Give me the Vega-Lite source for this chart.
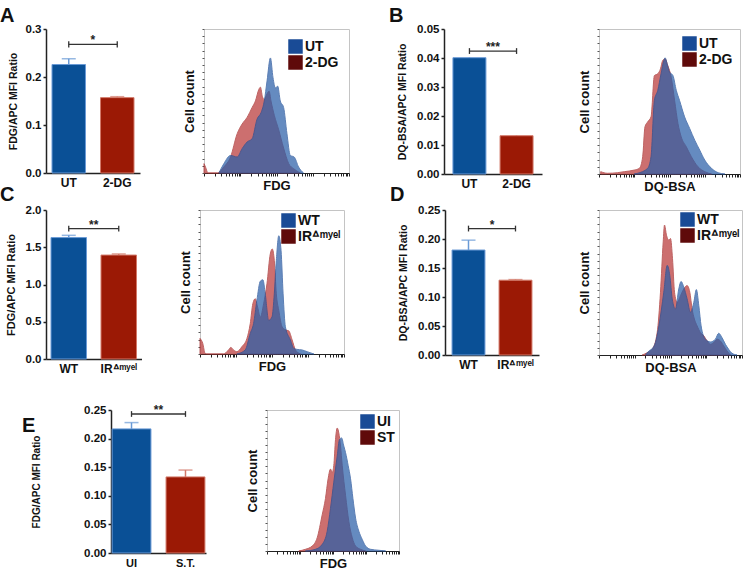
{
"$schema": "https://vega.github.io/schema/vega-lite/v6.json",
"padding": {"left": 0, "top": 6, "right": 0, "bottom": 0},
"background": "white",
"config": {"font": "Liberation Sans", "view": {"stroke": null},
  "axis": {"grid": false, "labelColor": "#111", "titleColor": "#111", "labelFontWeight": "bold", "titleFontWeight": "bold", "domainColor": "#222", "tickColor": "#222", "labelOverlap": false},
  "title": {"color": "#111"}},
"datasets": {
"bars": [
{"p":"A","g":"UT","v":0.226,"e":0.238},{"p":"A","g":"2-DG","v":0.157,"e":0.159},
{"p":"B","g":"UT","v":0.0401,"e":0.0403},{"p":"B","g":"2-DG","v":0.0132,"e":0.0134},
{"p":"C","g":"WT","v":1.63,"e":1.66},{"p":"C","g":"IRᐞᵐʸᵉˡ","v":1.395,"e":1.41},
{"p":"D","g":"WT","v":0.181,"e":0.198},{"p":"D","g":"IRᐞᵐʸᵉˡ","v":0.129,"e":0.13},
{"p":"E","g":"UI","v":0.217,"e":0.228},{"p":"E","g":"S.T.","v":0.133,"e":0.145}],
"br": [
{"p":"A","g":"UT","g2":"2-DG","v":0.268,"lo":0.2617,"hi":0.2743,"s":"*"},
{"p":"B","g":"UT","g2":"2-DG","v":0.0424,"lo":0.0414,"hi":0.0434,"s":"***"},
{"p":"C","g":"WT","g2":"IRᐞᵐʸᵉˡ","v":1.75,"lo":1.71,"hi":1.79,"s":"**"},
{"p":"D","g":"WT","g2":"IRᐞᵐʸᵉˡ","v":0.218,"lo":0.213,"hi":0.223,"s":"*"},
{"p":"E","g":"UI","g2":"S.T.","v":0.243,"lo":0.238,"hi":0.248,"s":"**"}],
"hist": [
{"p":"A","g":"UT","x":10.3,"y":0},{"p":"A","g":"UT","x":13.7,"y":6.5},{"p":"A","g":"UT","x":18.3,"y":12.2},{"p":"A","g":"UT","x":22.9,"y":11.1},{"p":"A","g":"UT","x":26.3,"y":16.9},{"p":"A","g":"UT","x":29.7,"y":21.5},{"p":"A","g":"UT","x":33.2,"y":23.8},{"p":"A","g":"UT","x":36.6,"y":37.4},{"p":"A","g":"UT","x":39.4,"y":42.0},{"p":"A","g":"UT","x":41.6,"y":50.1},{"p":"A","g":"UT","x":43.5,"y":64.0},{"p":"A","g":"UT","x":45.8,"y":79.9},{"p":"A","g":"UT","x":47.6,"y":66.1},{"p":"A","g":"UT","x":49.2,"y":59.1},{"p":"A","g":"UT","x":50.8,"y":60.3},{"p":"A","g":"UT","x":52.6,"y":50.1},{"p":"A","g":"UT","x":54.9,"y":45.5},{"p":"A","g":"UT","x":57.2,"y":27.3},{"p":"A","g":"UT","x":59.5,"y":12.2},{"p":"A","g":"UT","x":62.2,"y":11.1},{"p":"A","g":"UT","x":65.2,"y":4.2},{"p":"A","g":"UT","x":68.6,"y":0},
{"p":"A","g":"2-DG","x":0,"y":6.5},{"p":"A","g":"2-DG","x":1.1,"y":4},{"p":"A","g":"2-DG","x":2.7,"y":0},{"p":"A","g":"2-DG","x":9.2,"y":0},{"p":"A","g":"2-DG","x":13.7,"y":4.2},{"p":"A","g":"2-DG","x":18.3,"y":11.1},{"p":"A","g":"2-DG","x":22.9,"y":27.3},{"p":"A","g":"2-DG","x":26.3,"y":34.0},{"p":"A","g":"2-DG","x":29.7,"y":38.6},{"p":"A","g":"2-DG","x":33.2,"y":45.5},{"p":"A","g":"2-DG","x":35.5,"y":50.1},{"p":"A","g":"2-DG","x":37.8,"y":58.0},{"p":"A","g":"2-DG","x":38.9,"y":59.6},{"p":"A","g":"2-DG","x":40.3,"y":53.0},{"p":"A","g":"2-DG","x":41.6,"y":51.0},{"p":"A","g":"2-DG","x":43.5,"y":55.0},{"p":"A","g":"2-DG","x":44.9,"y":56.8},{"p":"A","g":"2-DG","x":46.2,"y":50.0},{"p":"A","g":"2-DG","x":48.5,"y":40.0},{"p":"A","g":"2-DG","x":51.5,"y":30.0},{"p":"A","g":"2-DG","x":54.9,"y":17.3},{"p":"A","g":"2-DG","x":58.4,"y":6.5},{"p":"A","g":"2-DG","x":61.8,"y":3.0},{"p":"A","g":"2-DG","x":66.4,"y":0},
{"p":"B","g":"UT","x":25,"y":0},{"p":"B","g":"UT","x":27.4,"y":0.5},{"p":"B","g":"UT","x":34.5,"y":3.9},{"p":"B","g":"UT","x":36.9,"y":11.9},{"p":"B","g":"UT","x":39.3,"y":50.8},{"p":"B","g":"UT","x":41.7,"y":57.7},{"p":"B","g":"UT","x":44.0,"y":69.1},{"p":"B","g":"UT","x":46.0,"y":78.3},{"p":"B","g":"UT","x":46.9,"y":80.1},{"p":"B","g":"UT","x":48.3,"y":76.0},{"p":"B","g":"UT","x":50.0,"y":70.3},{"p":"B","g":"UT","x":52.4,"y":68.0},{"p":"B","g":"UT","x":54.8,"y":57.7},{"p":"B","g":"UT","x":57.1,"y":50.8},{"p":"B","g":"UT","x":60.7,"y":39.4},{"p":"B","g":"UT","x":64.3,"y":31.4},{"p":"B","g":"UT","x":67.9,"y":23.3},{"p":"B","g":"UT","x":71.4,"y":16.5},{"p":"B","g":"UT","x":75.0,"y":9.6},{"p":"B","g":"UT","x":79.8,"y":3.9},{"p":"B","g":"UT","x":84.5,"y":0.9},{"p":"B","g":"UT","x":89.3,"y":0},
{"p":"B","g":"2-DG","x":1.2,"y":1.6},{"p":"B","g":"2-DG","x":6.0,"y":0.5},{"p":"B","g":"2-DG","x":13.1,"y":0.9},{"p":"B","g":"2-DG","x":17.9,"y":1.6},{"p":"B","g":"2-DG","x":25.0,"y":2.7},{"p":"B","g":"2-DG","x":28.6,"y":3.9},{"p":"B","g":"2-DG","x":31.0,"y":11.9},{"p":"B","g":"2-DG","x":32.6,"y":32.5},{"p":"B","g":"2-DG","x":34.5,"y":35.9},{"p":"B","g":"2-DG","x":36.9,"y":39.4},{"p":"B","g":"2-DG","x":39.3,"y":67.9},{"p":"B","g":"2-DG","x":41.7,"y":69.1},{"p":"B","g":"2-DG","x":43.6,"y":72.5},{"p":"B","g":"2-DG","x":45.2,"y":78.3},{"p":"B","g":"2-DG","x":46.9,"y":79.4},{"p":"B","g":"2-DG","x":48.8,"y":74.8},{"p":"B","g":"2-DG","x":51.2,"y":66.8},{"p":"B","g":"2-DG","x":53.6,"y":50.8},{"p":"B","g":"2-DG","x":56.0,"y":34.8},{"p":"B","g":"2-DG","x":58.3,"y":25.6},{"p":"B","g":"2-DG","x":61.9,"y":18.8},{"p":"B","g":"2-DG","x":65.5,"y":11.9},{"p":"B","g":"2-DG","x":70.2,"y":5.0},{"p":"B","g":"2-DG","x":75.0,"y":1.6},{"p":"B","g":"2-DG","x":79.8,"y":0},
{"p":"C","g":"WT","x":25.6,"y":0},{"p":"C","g":"WT","x":31.4,"y":2.8},{"p":"C","g":"WT","x":34.9,"y":14.3},{"p":"C","g":"WT","x":37.2,"y":21.1},{"p":"C","g":"WT","x":39.5,"y":37.2},{"p":"C","g":"WT","x":41.9,"y":50.6},{"p":"C","g":"WT","x":43.7,"y":51.5},{"p":"C","g":"WT","x":45.3,"y":41.8},{"p":"C","g":"WT","x":47.7,"y":23.4},{"p":"C","g":"WT","x":50.0,"y":25.7},{"p":"C","g":"WT","x":51.6,"y":41.8},{"p":"C","g":"WT","x":53.0,"y":64.8},{"p":"C","g":"WT","x":54.7,"y":82.1},{"p":"C","g":"WT","x":56.3,"y":71.7},{"p":"C","g":"WT","x":57.7,"y":41.8},{"p":"C","g":"WT","x":59.3,"y":18.9},{"p":"C","g":"WT","x":62.8,"y":9.7},{"p":"C","g":"WT","x":65.1,"y":3.9},{"p":"C","g":"WT","x":67.4,"y":3.2},{"p":"C","g":"WT","x":70.9,"y":2.8},{"p":"C","g":"WT","x":74.4,"y":1.6},{"p":"C","g":"WT","x":79.1,"y":0},
{"p":"C","g":"IRᐞᵐʸᵉˡ","x":0,"y":10.8},{"p":"C","g":"IRᐞᵐʸᵉˡ","x":1.9,"y":7.4},{"p":"C","g":"IRᐞᵐʸᵉˡ","x":3.5,"y":0.5},{"p":"C","g":"IRᐞᵐʸᵉˡ","x":4.7,"y":0},{"p":"C","g":"IRᐞᵐʸᵉˡ","x":16.3,"y":0},{"p":"C","g":"IRᐞᵐʸᵉˡ","x":19.8,"y":2.8},{"p":"C","g":"IRᐞᵐʸᵉˡ","x":21.4,"y":4.6},{"p":"C","g":"IRᐞᵐʸᵉˡ","x":23.3,"y":2.8},{"p":"C","g":"IRᐞᵐʸᵉˡ","x":25.6,"y":1.6},{"p":"C","g":"IRᐞᵐʸᵉˡ","x":29.1,"y":5.1},{"p":"C","g":"IRᐞᵐʸᵉˡ","x":32.6,"y":10.8},{"p":"C","g":"IRᐞᵐʸᵉˡ","x":34.9,"y":21.1},{"p":"C","g":"IRᐞᵐʸᵉˡ","x":36.7,"y":34.9},{"p":"C","g":"IRᐞᵐʸᵉˡ","x":38.4,"y":38.4},{"p":"C","g":"IRᐞᵐʸᵉˡ","x":40.0,"y":32.6},{"p":"C","g":"IRᐞᵐʸᵉˡ","x":41.9,"y":25.7},{"p":"C","g":"IRᐞᵐʸᵉˡ","x":44.2,"y":34.9},{"p":"C","g":"IRᐞᵐʸᵉˡ","x":46.5,"y":48.7},{"p":"C","g":"IRᐞᵐʸᵉˡ","x":48.8,"y":69.4},{"p":"C","g":"IRᐞᵐʸᵉˡ","x":50.2,"y":72.9},{"p":"C","g":"IRᐞᵐʸᵉˡ","x":51.6,"y":64.8},{"p":"C","g":"IRᐞᵐʸᵉˡ","x":53.0,"y":41.8},{"p":"C","g":"IRᐞᵐʸᵉˡ","x":54.7,"y":30.3},{"p":"C","g":"IRᐞᵐʸᵉˡ","x":57.0,"y":18.9},{"p":"C","g":"IRᐞᵐʸᵉˡ","x":59.3,"y":16.8},{"p":"C","g":"IRᐞᵐʸᵉˡ","x":61.6,"y":16.1},{"p":"C","g":"IRᐞᵐʸᵉˡ","x":64.0,"y":9.7},{"p":"C","g":"IRᐞᵐʸᵉˡ","x":66.3,"y":2.8},{"p":"C","g":"IRᐞᵐʸᵉˡ","x":69.8,"y":0},
{"p":"D","g":"WT","x":32.6,"y":0},{"p":"D","g":"WT","x":34.9,"y":2.8},{"p":"D","g":"WT","x":37.2,"y":4.4},{"p":"D","g":"WT","x":39.5,"y":8.6},{"p":"D","g":"WT","x":41.9,"y":20.1},{"p":"D","g":"WT","x":45.3,"y":43.3},{"p":"D","g":"WT","x":47.7,"y":61.8},{"p":"D","g":"WT","x":49.5,"y":54.9},{"p":"D","g":"WT","x":51.2,"y":38.7},{"p":"D","g":"WT","x":53.5,"y":31.7},{"p":"D","g":"WT","x":55.8,"y":45.6},{"p":"D","g":"WT","x":57.4,"y":50.7},{"p":"D","g":"WT","x":59.3,"y":46.8},{"p":"D","g":"WT","x":61.6,"y":38.7},{"p":"D","g":"WT","x":64.0,"y":29.4},{"p":"D","g":"WT","x":66.3,"y":36.3},{"p":"D","g":"WT","x":68.1,"y":45.1},{"p":"D","g":"WT","x":69.8,"y":34.0},{"p":"D","g":"WT","x":71.4,"y":20.1},{"p":"D","g":"WT","x":74.4,"y":10.9},{"p":"D","g":"WT","x":77.9,"y":9.0},{"p":"D","g":"WT","x":81.4,"y":10.9},{"p":"D","g":"WT","x":83.7,"y":15.0},{"p":"D","g":"WT","x":86.0,"y":12.0},{"p":"D","g":"WT","x":88.4,"y":7.4},{"p":"D","g":"WT","x":90.7,"y":3.9},{"p":"D","g":"WT","x":93.0,"y":1.2},{"p":"D","g":"WT","x":96.5,"y":0},
{"p":"D","g":"IRᐞᵐʸᵉˡ","x":30.2,"y":0},{"p":"D","g":"IRᐞᵐʸᵉˡ","x":33.7,"y":1.6},{"p":"D","g":"IRᐞᵐʸᵉˡ","x":37.2,"y":3.9},{"p":"D","g":"IRᐞᵐʸᵉˡ","x":40.7,"y":15.5},{"p":"D","g":"IRᐞᵐʸᵉˡ","x":43.0,"y":43.3},{"p":"D","g":"IRᐞᵐʸᵉˡ","x":44.9,"y":78.0},{"p":"D","g":"IRᐞᵐʸᵉˡ","x":45.8,"y":89.6},{"p":"D","g":"IRᐞᵐʸᵉˡ","x":47.2,"y":82.6},{"p":"D","g":"IRᐞᵐʸᵉˡ","x":48.8,"y":79.2},{"p":"D","g":"IRᐞᵐʸᵉˡ","x":50.0,"y":80.3},{"p":"D","g":"IRᐞᵐʸᵉˡ","x":51.4,"y":66.4},{"p":"D","g":"IRᐞᵐʸᵉˡ","x":52.8,"y":43.3},{"p":"D","g":"IRᐞᵐʸᵉˡ","x":54.7,"y":36.3},{"p":"D","g":"IRᐞᵐʸᵉˡ","x":57.0,"y":40.9},{"p":"D","g":"IRᐞᵐʸᵉˡ","x":59.3,"y":45.6},{"p":"D","g":"IRᐞᵐʸᵉˡ","x":61.6,"y":47.9},{"p":"D","g":"IRᐞᵐʸᵉˡ","x":63.5,"y":43.3},{"p":"D","g":"IRᐞᵐʸᵉˡ","x":65.1,"y":31.7},{"p":"D","g":"IRᐞᵐʸᵉˡ","x":66.7,"y":24.8},{"p":"D","g":"IRᐞᵐʸᵉˡ","x":68.6,"y":20.1},{"p":"D","g":"IRᐞᵐʸᵉˡ","x":70.9,"y":15.5},{"p":"D","g":"IRᐞᵐʸᵉˡ","x":73.3,"y":13.2},{"p":"D","g":"IRᐞᵐʸᵉˡ","x":75.6,"y":9.7},{"p":"D","g":"IRᐞᵐʸᵉˡ","x":77.9,"y":7.4},{"p":"D","g":"IRᐞᵐʸᵉˡ","x":80.2,"y":8.6},{"p":"D","g":"IRᐞᵐʸᵉˡ","x":82.6,"y":10.9},{"p":"D","g":"IRᐞᵐʸᵉˡ","x":84.9,"y":9.7},{"p":"D","g":"IRᐞᵐʸᵉˡ","x":87.2,"y":6.3},{"p":"D","g":"IRᐞᵐʸᵉˡ","x":89.5,"y":2.8},{"p":"D","g":"IRᐞᵐʸᵉˡ","x":91.9,"y":0},
{"p":"E","g":"UI","x":29.1,"y":0},{"p":"E","g":"UI","x":36.7,"y":1.2},{"p":"E","g":"UI","x":41.8,"y":4.7},{"p":"E","g":"UI","x":45.6,"y":14.0},{"p":"E","g":"UI","x":48.1,"y":30.2},{"p":"E","g":"UI","x":50.6,"y":48.8},{"p":"E","g":"UI","x":53.2,"y":67.4},{"p":"E","g":"UI","x":54.9,"y":79.1},{"p":"E","g":"UI","x":56.5,"y":80.2},{"p":"E","g":"UI","x":58.2,"y":74.4},{"p":"E","g":"UI","x":59.5,"y":69.8},{"p":"E","g":"UI","x":61.5,"y":60.5},{"p":"E","g":"UI","x":63.3,"y":51.2},{"p":"E","g":"UI","x":65.1,"y":37.2},{"p":"E","g":"UI","x":67.1,"y":23.3},{"p":"E","g":"UI","x":69.6,"y":14.0},{"p":"E","g":"UI","x":72.2,"y":8.1},{"p":"E","g":"UI","x":74.7,"y":3.5},{"p":"E","g":"UI","x":78.5,"y":1.2},{"p":"E","g":"UI","x":84.8,"y":0.5},{"p":"E","g":"UI","x":89.9,"y":0},
{"p":"E","g":"ST","x":24.1,"y":0},{"p":"E","g":"ST","x":29.1,"y":1.2},{"p":"E","g":"ST","x":34.2,"y":3.5},{"p":"E","g":"ST","x":38.0,"y":9.3},{"p":"E","g":"ST","x":41.8,"y":25.6},{"p":"E","g":"ST","x":44.3,"y":37.2},{"p":"E","g":"ST","x":46.3,"y":51.2},{"p":"E","g":"ST","x":48.1,"y":58.1},{"p":"E","g":"ST","x":49.4,"y":55.8},{"p":"E","g":"ST","x":50.6,"y":60.5},{"p":"E","g":"ST","x":51.9,"y":79.1},{"p":"E","g":"ST","x":53.2,"y":87.2},{"p":"E","g":"ST","x":54.4,"y":83.7},{"p":"E","g":"ST","x":55.7,"y":74.4},{"p":"E","g":"ST","x":57.0,"y":60.5},{"p":"E","g":"ST","x":59.5,"y":39.5},{"p":"E","g":"ST","x":62.0,"y":20.9},{"p":"E","g":"ST","x":64.6,"y":9.3},{"p":"E","g":"ST","x":67.1,"y":3.5},{"p":"E","g":"ST","x":70.9,"y":1.2},{"p":"E","g":"ST","x":74.7,"y":0}
]},
"spacing": 29,
"resolve": {"scale": {"color": "independent", "fill": "independent", "stroke": "independent", "x": "independent", "y": "independent"}, "legend": {"color": "independent"}, "axis": {"x": "independent", "y": "independent"}},
"vconcat": [
{"spacing": -9,
 "resolve": {"scale": {"color": "independent", "fill": "independent", "stroke": "independent", "x": "independent", "y": "independent"}, "legend": {"color": "independent"}, "axis": {"x": "independent", "y": "independent"}},
 "vconcat": [
 {"bounds": "flush", "spacing": 0,
  "resolve": {"scale": {"color": "independent", "fill": "independent", "stroke": "independent", "x": "independent", "y": "independent"}, "legend": {"color": "independent"}, "axis": {"x": "independent", "y": "independent"}},
  "hconcat": [
   {"width": 124, "height": 144,
    "title": {"text": "A", "anchor": "start", "frame": "group", "fontSize": 20, "fontWeight": "bold", "baseline": "alphabetic", "dx": -46, "offset": 0, "dy": 19},
    "layer": [
     {"data": {"name": "bars"}, "transform": [{"filter": "datum.p==='A'"}], "mark": {"type": "bar", "strokeWidth": 1},
      "encoding": {
       "x": {"field": "g", "type": "nominal", "sort": null, "scale": {"domain": ["UT","2-DG"], "range": [0,94], "paddingInner": 0.31, "paddingOuter": 0.124}, "axis": {"title": null, "labelAngle": 0, "ticks": false, "labelFontSize": 12, "labelPadding": 4, "domainWidth": 1.5}},
       "y": {"field": "v", "type": "quantitative", "scale": {"domain": [0,0.3], "nice": false}, "axis": {"title": "FDG/APC MFI Ratio", "values": [0,0.1,0.2,0.3], "tickCount": 10, "format": ".1f", "labelOverlap": false, "labelFontSize": 11.5, "labelPadding": 2, "tickSize": 3, "tickWidth": 1.5, "domainWidth": 1.5, "titleFontSize": 10.5, "titlePadding": 7}},
       "fill": {"field": "g", "type": "nominal", "scale": {"domain": ["UT","2-DG"], "range": ["#0A5096","#9B1905"]}, "legend": null},
       "stroke": {"field": "g", "type": "nominal", "scale": {"domain": ["UT","2-DG"], "range": ["#6A9AD6","#D27868"]}, "legend": null}}},
     {"data": {"name": "bars"}, "transform": [{"filter": "datum.p==='A'"}], "mark": {"type": "rule", "strokeWidth": 1.5},
      "encoding": {"x": {"field": "g", "type": "nominal"}, "y": {"field": "v", "type": "quantitative"}, "y2": {"field": "e"}, "stroke": {"field": "g", "type": "nominal", "legend": null}}},
     {"data": {"name": "bars"}, "transform": [{"filter": "datum.p==='A'"}], "mark": {"type": "tick", "size": 14, "thickness": 1.5},
      "encoding": {"x": {"field": "g", "type": "nominal"}, "y": {"field": "e", "type": "quantitative"}, "color": {"field": "g", "type": "nominal", "scale": {"domain": ["UT","2-DG"], "range": ["#6A9AD6","#D27868"]}, "legend": null}}},
     {"data": {"name": "br"}, "transform": [{"filter": "datum.p==='A'"}], "mark": {"type": "rule", "color": "#333", "strokeWidth": 1.3},
      "encoding": {"x": {"field": "g", "type": "nominal"}, "x2": {"field": "g2"}, "y": {"field": "v", "type": "quantitative"}}},
     {"data": {"name": "br"}, "transform": [{"filter": "datum.p==='A'"}], "mark": {"type": "rule", "color": "#333", "strokeWidth": 1.3},
      "encoding": {"x": {"field": "g", "type": "nominal"}, "y": {"field": "lo", "type": "quantitative"}, "y2": {"field": "hi"}}},
     {"data": {"name": "br"}, "transform": [{"filter": "datum.p==='A'"}], "mark": {"type": "rule", "color": "#333", "strokeWidth": 1.3},
      "encoding": {"x": {"field": "g2", "type": "nominal"}, "y": {"field": "lo", "type": "quantitative"}, "y2": {"field": "hi"}}},
     {"data": {"name": "br"}, "transform": [{"filter": "datum.p==='A'"}], "mark": {"type": "text", "fontSize": 12, "fontWeight": "bold", "dx": 24, "baseline": "alphabetic", "color": "#222"},
      "encoding": {"x": {"field": "g", "type": "nominal"}, "y": {"field": "v", "type": "quantitative"}, "text": {"field": "s"}}}
    ]},
   {"width": 34, "height": 144, "data": {"values": [{"k": 1}]}, "mark": {"type": "point", "opacity": 0}, "encoding": {}},
   {"width": 145, "height": 144, "view": {"stroke": "#c4c4c4"},
    "layer": [
     {"data": {"name": "hist"}, "transform": [{"filter": "datum.p==='A' && datum.g==='2-DG'"}], "mark": {"type": "area", "interpolate": "monotone", "color": "#BC3F3F", "opacity": 0.75, "stroke": "#A83030", "strokeWidth": 1},
      "encoding": {
       "x": {"field": "x", "type": "quantitative", "scale": {"domain": [0,100], "nice": false, "zero": false}, "axis": {"title": "FDG", "titleFontSize": 13, "titlePadding": 3, "labels": false, "tickCount": 50, "values": [0,7.5,11.9,15.1,17.5,19.5,21.1,22.6,23.9,25,32.5,36.9,40.1,42.5,44.5,46.1,47.6,48.9,50,57.5,61.9,65.1,67.5,69.5,71.1,72.6,73.9,75,82.5,86.9,90.1,92.5,94.5,96.1,97.6,98.9,100], "tickSize": 3, "domainWidth": 1.2}},
       "y": {"field": "y", "type": "quantitative", "scale": {"domain": [0,100], "nice": false}, "axis": {"title": "Cell count", "titleFontSize": 13, "titlePadding": 5, "labels": false, "tickCount": 50, "values": [0,5,10,15,20,25,30,35,40,45,50,55,60,65,70,75,80,85,90,95,100], "tickSize": 2, "tickColor": "#555", "domain": false}}}},
     {"data": {"name": "hist"}, "transform": [{"filter": "datum.p==='A' && datum.g==='UT'"}], "mark": {"type": "area", "interpolate": "monotone", "color": "#2B5FA8", "opacity": 0.72, "stroke": "#1E4E98", "strokeWidth": 1},
      "encoding": {"x": {"field": "x", "type": "quantitative"}, "y": {"field": "y", "type": "quantitative"}}},
     {"data": {"name": "hist"}, "transform": [{"filter": "datum.p==='A'"}], "mark": {"type": "point", "opacity": 0, "filled": true},
      "encoding": {"x": {"field": "x", "type": "quantitative"}, "y": {"field": "y", "type": "quantitative"},
       "color": {"field": "g", "type": "nominal", "scale": {"domain": ["UT","2-DG"], "range": ["#194B96","#5F0A0A"]},
        "legend": {"orient": "top-right", "offset": 10, "title": null, "symbolType": "square", "symbolSize": 210, "symbolOpacity": 1, "symbolStrokeWidth": 0, "labelFontSize": 14, "labelFontWeight": "bold", "labelColor": "#111", "rowPadding": 1, "labelOffset": 2, "padding": 0}}}}
    ]},
   {"width": 95, "height": 144, "data": {"values": [{"k": 1}]}, "mark": {"type": "point", "opacity": 0}, "encoding": {}},
   {"width": 111, "height": 145,
    "title": {"text": "B", "anchor": "start", "frame": "group", "fontSize": 20, "fontWeight": "bold", "baseline": "alphabetic", "dx": -55, "offset": 0, "dy": 19},
    "layer": [
     {"data": {"name": "bars"}, "transform": [{"filter": "datum.p==='B'"}], "mark": {"type": "bar", "strokeWidth": 1},
      "encoding": {
       "x": {"field": "g", "type": "nominal", "sort": null, "scale": {"domain": ["UT","2-DG"], "range": [0,98], "paddingInner": 0.30, "paddingOuter": 0.19}, "axis": {"title": null, "labelAngle": 0, "ticks": false, "labelFontSize": 12, "labelPadding": 4, "domainWidth": 1.5}},
       "y": {"field": "v", "type": "quantitative", "scale": {"domain": [0,0.05], "nice": false}, "axis": {"title": "DQ-BSA/APC MFI Ratio", "values": [0,0.01,0.02,0.03,0.04,0.05], "tickCount": 10, "format": ".2f", "labelOverlap": false, "labelFontSize": 11.5, "labelPadding": 2, "tickSize": 3, "tickWidth": 1.5, "domainWidth": 1.5, "titleFontSize": 10.5, "titlePadding": 9}},
       "fill": {"field": "g", "type": "nominal", "scale": {"domain": ["UT","2-DG"], "range": ["#0A5096","#9B1905"]}, "legend": null},
       "stroke": {"field": "g", "type": "nominal", "scale": {"domain": ["UT","2-DG"], "range": ["#6A9AD6","#D27868"]}, "legend": null}}},
     {"data": {"name": "bars"}, "transform": [{"filter": "datum.p==='B'"}], "mark": {"type": "rule", "strokeWidth": 1.5},
      "encoding": {"x": {"field": "g", "type": "nominal"}, "y": {"field": "v", "type": "quantitative", "axis": {"title": "DQ-BSA/APC MFI Ratio", "values": [0,0.01,0.02,0.03,0.04,0.05], "tickCount": 10, "format": ".2f", "labelOverlap": false}}, "y2": {"field": "e"}, "stroke": {"field": "g", "type": "nominal", "legend": null}}},
     {"data": {"name": "br"}, "transform": [{"filter": "datum.p==='B'"}], "mark": {"type": "rule", "color": "#333", "strokeWidth": 1.3},
      "encoding": {"x": {"field": "g", "type": "nominal"}, "x2": {"field": "g2"}, "y": {"field": "v", "type": "quantitative", "axis": {"title": "DQ-BSA/APC MFI Ratio", "values": [0,0.01,0.02,0.03,0.04,0.05], "tickCount": 10, "format": ".2f", "labelOverlap": false}}}},
     {"data": {"name": "br"}, "transform": [{"filter": "datum.p==='B'"}], "mark": {"type": "rule", "color": "#333", "strokeWidth": 1.3},
      "encoding": {"x": {"field": "g", "type": "nominal"}, "y": {"field": "lo", "type": "quantitative", "axis": {"title": "DQ-BSA/APC MFI Ratio", "values": [0,0.01,0.02,0.03,0.04,0.05], "tickCount": 10, "format": ".2f", "labelOverlap": false}}, "y2": {"field": "hi"}}},
     {"data": {"name": "br"}, "transform": [{"filter": "datum.p==='B'"}], "mark": {"type": "rule", "color": "#333", "strokeWidth": 1.3},
      "encoding": {"x": {"field": "g2", "type": "nominal"}, "y": {"field": "lo", "type": "quantitative", "axis": {"title": "DQ-BSA/APC MFI Ratio", "values": [0,0.01,0.02,0.03,0.04,0.05], "tickCount": 10, "format": ".2f", "labelOverlap": false}}, "y2": {"field": "hi"}}},
     {"data": {"name": "br"}, "transform": [{"filter": "datum.p==='B'"}], "mark": {"type": "text", "fontSize": 12, "fontWeight": "bold", "dx": 23.5, "baseline": "alphabetic", "color": "#222"},
      "encoding": {"x": {"field": "g", "type": "nominal"}, "y": {"field": "v", "type": "quantitative", "axis": {"title": "DQ-BSA/APC MFI Ratio", "values": [0,0.01,0.02,0.03,0.04,0.05], "tickCount": 10, "format": ".2f", "labelOverlap": false}}, "text": {"field": "s"}}}
    ]},
   {"width": 44, "height": 144, "data": {"values": [{"k": 1}]}, "mark": {"type": "point", "opacity": 0}, "encoding": {}},
   {"width": 141, "height": 145, "view": {"stroke": "#c4c4c4"},
    "layer": [
     {"data": {"name": "hist"}, "transform": [{"filter": "datum.p==='B' && datum.g==='2-DG'"}], "mark": {"type": "area", "interpolate": "monotone", "color": "#BC3F3F", "opacity": 0.75, "stroke": "#A83030", "strokeWidth": 1},
      "encoding": {
       "x": {"field": "x", "type": "quantitative", "scale": {"domain": [0,100], "nice": false, "zero": false}, "axis": {"title": "DQ-BSA", "titleFontSize": 13, "titlePadding": 3, "labels": false, "tickCount": 50, "values": [0,7.5,11.9,15.1,17.5,19.5,21.1,22.6,23.9,25,32.5,36.9,40.1,42.5,44.5,46.1,47.6,48.9,50,57.5,61.9,65.1,67.5,69.5,71.1,72.6,73.9,75,82.5,86.9,90.1,92.5,94.5,96.1,97.6,98.9,100], "tickSize": 3, "domainWidth": 1.2}},
       "y": {"field": "y", "type": "quantitative", "scale": {"domain": [0,100], "nice": false}, "axis": {"title": "Cell count", "titleFontSize": 13, "titlePadding": 5, "labels": false, "tickCount": 50, "values": [0,5,10,15,20,25,30,35,40,45,50,55,60,65,70,75,80,85,90,95,100], "tickSize": 2, "tickColor": "#555", "domain": false}}}},
     {"data": {"name": "hist"}, "transform": [{"filter": "datum.p==='B' && datum.g==='UT'"}], "mark": {"type": "area", "interpolate": "monotone", "color": "#2B5FA8", "opacity": 0.72, "stroke": "#1E4E98", "strokeWidth": 1},
      "encoding": {"x": {"field": "x", "type": "quantitative"}, "y": {"field": "y", "type": "quantitative"}}},
     {"data": {"name": "hist"}, "transform": [{"filter": "datum.p==='B'"}], "mark": {"type": "point", "opacity": 0, "filled": true},
      "encoding": {"x": {"field": "x", "type": "quantitative"}, "y": {"field": "y", "type": "quantitative"},
       "color": {"field": "g", "type": "nominal", "scale": {"domain": ["UT","2-DG"], "range": ["#194B96","#5F0A0A"]},
        "legend": {"orient": "top-right", "offset": 7, "title": null, "symbolType": "square", "symbolSize": 210, "symbolOpacity": 1, "symbolStrokeWidth": 0, "labelFontSize": 14, "labelFontWeight": "bold", "labelColor": "#111", "rowPadding": 1, "labelOffset": 2, "padding": 0}}}}
    ]}
  ]},
 {"bounds": "flush", "spacing": 0,
  "resolve": {"scale": {"color": "independent", "fill": "independent", "stroke": "independent", "x": "independent", "y": "independent"}, "legend": {"color": "independent"}, "axis": {"x": "independent", "y": "independent"}},
  "hconcat": [
   {"width": 98, "height": 149,
    "title": {"text": "C", "anchor": "start", "frame": "group", "fontSize": 20, "fontWeight": "bold", "baseline": "alphabetic", "dx": -46, "offset": 0, "dy": 17},
    "layer": [
     {"data": {"name": "bars"}, "transform": [{"filter": "datum.p==='C'"}], "mark": {"type": "bar", "strokeWidth": 1},
      "encoding": {
       "x": {"field": "g", "type": "nominal", "sort": null, "scale": {"domain": ["WT","IRᐞᵐʸᵉˡ"], "range": [0,95.5], "paddingInner": 0.29, "paddingOuter": 0.1}, "axis": {"title": null, "labelAngle": 0, "ticks": false, "labelFontSize": 12, "labelPadding": 4, "domainWidth": 1.5}},
       "y": {"field": "v", "type": "quantitative", "scale": {"domain": [0,2], "nice": false}, "axis": {"title": "FDG/APC MFI Ratio", "values": [0,0.5,1,1.5,2], "tickCount": 10, "format": ".1f", "labelOverlap": false, "labelFontSize": 11.5, "labelPadding": 2, "tickSize": 3, "tickWidth": 1.5, "domainWidth": 1.5, "titleFontSize": 11, "titlePadding": 9}},
       "fill": {"field": "g", "type": "nominal", "scale": {"domain": ["WT","IRᐞᵐʸᵉˡ"], "range": ["#0A5096","#9B1905"]}, "legend": null},
       "stroke": {"field": "g", "type": "nominal", "scale": {"domain": ["WT","IRᐞᵐʸᵉˡ"], "range": ["#6A9AD6","#D27868"]}, "legend": null}}},
     {"data": {"name": "bars"}, "transform": [{"filter": "datum.p==='C'"}], "mark": {"type": "rule", "strokeWidth": 1.5},
      "encoding": {"x": {"field": "g", "type": "nominal"}, "y": {"field": "v", "type": "quantitative", "axis": {"title": "FDG/APC MFI Ratio", "values": [0,0.5,1,1.5,2], "tickCount": 10, "format": ".1f", "labelOverlap": false}}, "y2": {"field": "e"}, "stroke": {"field": "g", "type": "nominal", "legend": null}}},
     {"data": {"name": "bars"}, "transform": [{"filter": "datum.p==='C'"}], "mark": {"type": "tick", "size": 14, "thickness": 1.5},
      "encoding": {"x": {"field": "g", "type": "nominal"}, "y": {"field": "e", "type": "quantitative", "axis": {"title": "FDG/APC MFI Ratio", "values": [0,0.5,1,1.5,2], "tickCount": 10, "format": ".1f", "labelOverlap": false}}, "color": {"field": "g", "type": "nominal", "scale": {"domain": ["WT","IRᐞᵐʸᵉˡ"], "range": ["#6A9AD6","#D27868"]}, "legend": null}}},
     {"data": {"name": "br"}, "transform": [{"filter": "datum.p==='C'"}], "mark": {"type": "rule", "color": "#333", "strokeWidth": 1.3},
      "encoding": {"x": {"field": "g", "type": "nominal"}, "x2": {"field": "g2"}, "y": {"field": "v", "type": "quantitative", "axis": {"title": "FDG/APC MFI Ratio", "values": [0,0.5,1,1.5,2], "tickCount": 10, "format": ".1f", "labelOverlap": false}}}},
     {"data": {"name": "br"}, "transform": [{"filter": "datum.p==='C'"}], "mark": {"type": "rule", "color": "#333", "strokeWidth": 1.3},
      "encoding": {"x": {"field": "g", "type": "nominal"}, "y": {"field": "lo", "type": "quantitative", "axis": {"title": "FDG/APC MFI Ratio", "values": [0,0.5,1,1.5,2], "tickCount": 10, "format": ".1f", "labelOverlap": false}}, "y2": {"field": "hi"}}},
     {"data": {"name": "br"}, "transform": [{"filter": "datum.p==='C'"}], "mark": {"type": "rule", "color": "#333", "strokeWidth": 1.3},
      "encoding": {"x": {"field": "g2", "type": "nominal"}, "y": {"field": "lo", "type": "quantitative", "axis": {"title": "FDG/APC MFI Ratio", "values": [0,0.5,1,1.5,2], "tickCount": 10, "format": ".1f", "labelOverlap": false}}, "y2": {"field": "hi"}}},
     {"data": {"name": "br"}, "transform": [{"filter": "datum.p==='C'"}], "mark": {"type": "text", "fontSize": 12, "fontWeight": "bold", "dx": 25, "baseline": "alphabetic", "color": "#222"},
      "encoding": {"x": {"field": "g", "type": "nominal"}, "y": {"field": "v", "type": "quantitative", "axis": {"title": "FDG/APC MFI Ratio", "values": [0,0.5,1,1.5,2], "tickCount": 10, "format": ".1f", "labelOverlap": false}}, "text": {"field": "s"}}}
    ]},
   {"width": 56, "height": 144, "data": {"values": [{"k": 1}]}, "mark": {"type": "point", "opacity": 0}, "encoding": {}},
   {"width": 144, "height": 144, "view": {"stroke": "#c4c4c4"},
    "layer": [
     {"data": {"name": "hist"}, "transform": [{"filter": "datum.p==='C' && datum.g!=='WT'"}], "mark": {"type": "area", "interpolate": "monotone", "color": "#BC3F3F", "opacity": 0.75, "stroke": "#A83030", "strokeWidth": 1},
      "encoding": {
       "x": {"field": "x", "type": "quantitative", "scale": {"domain": [0,100], "nice": false, "zero": false}, "axis": {"title": "FDG", "titleFontSize": 13, "titlePadding": 3, "labels": false, "tickCount": 50, "values": [0,7.5,11.9,15.1,17.5,19.5,21.1,22.6,23.9,25,32.5,36.9,40.1,42.5,44.5,46.1,47.6,48.9,50,57.5,61.9,65.1,67.5,69.5,71.1,72.6,73.9,75,82.5,86.9,90.1,92.5,94.5,96.1,97.6,98.9,100], "tickSize": 3, "domainWidth": 1.2}},
       "y": {"field": "y", "type": "quantitative", "scale": {"domain": [0,100], "nice": false}, "axis": {"title": "Cell count", "titleFontSize": 13, "titlePadding": 5, "labels": false, "tickCount": 50, "values": [0,5,10,15,20,25,30,35,40,45,50,55,60,65,70,75,80,85,90,95,100], "tickSize": 2, "tickColor": "#555", "domain": false}}}},
     {"data": {"name": "hist"}, "transform": [{"filter": "datum.p==='C' && datum.g==='WT'"}], "mark": {"type": "area", "interpolate": "monotone", "color": "#2B5FA8", "opacity": 0.72, "stroke": "#1E4E98", "strokeWidth": 1},
      "encoding": {"x": {"field": "x", "type": "quantitative"}, "y": {"field": "y", "type": "quantitative"}}},
     {"data": {"name": "hist"}, "transform": [{"filter": "datum.p==='C'"}], "mark": {"type": "point", "opacity": 0, "filled": true},
      "encoding": {"x": {"field": "x", "type": "quantitative"}, "y": {"field": "y", "type": "quantitative"},
       "color": {"field": "g", "type": "nominal", "scale": {"domain": ["WT","IRᐞᵐʸᵉˡ"], "range": ["#194B96","#5F0A0A"]},
        "legend": {"orient": "top-right", "offset": 3, "title": null, "symbolType": "square", "symbolSize": 210, "symbolOpacity": 1, "symbolStrokeWidth": 0, "labelFontSize": 14, "labelFontWeight": "bold", "labelColor": "#111", "rowPadding": 1, "labelOffset": 2, "padding": 0}}}}
    ]},
   {"width": 101, "height": 144, "data": {"values": [{"k": 1}]}, "mark": {"type": "point", "opacity": 0}, "encoding": {}},
   {"width": 112, "height": 145,
    "title": {"text": "D", "anchor": "start", "frame": "group", "fontSize": 20, "fontWeight": "bold", "baseline": "alphabetic", "dx": -55, "offset": 0, "dy": 17},
    "layer": [
     {"data": {"name": "bars"}, "transform": [{"filter": "datum.p==='D'"}], "mark": {"type": "bar", "strokeWidth": 1},
      "encoding": {
       "x": {"field": "g", "type": "nominal", "sort": null, "scale": {"domain": ["WT","IRᐞᵐʸᵉˡ"], "range": [0,94], "paddingInner": 0.30, "paddingOuter": 0.15}, "axis": {"title": null, "labelAngle": 0, "ticks": false, "labelFontSize": 12, "labelPadding": 4, "domainWidth": 1.5}},
       "y": {"field": "v", "type": "quantitative", "scale": {"domain": [0,0.25], "nice": false}, "axis": {"title": "DQ-BSA/APC MFI Ratio", "values": [0,0.05,0.1,0.15,0.2,0.25], "tickCount": 10, "format": ".2f", "labelOverlap": false, "labelFontSize": 11.5, "labelPadding": 2, "tickSize": 3, "tickWidth": 1.5, "domainWidth": 1.5, "titleFontSize": 10.5, "titlePadding": 9}},
       "fill": {"field": "g", "type": "nominal", "scale": {"domain": ["WT","IRᐞᵐʸᵉˡ"], "range": ["#0A5096","#9B1905"]}, "legend": null},
       "stroke": {"field": "g", "type": "nominal", "scale": {"domain": ["WT","IRᐞᵐʸᵉˡ"], "range": ["#6A9AD6","#D27868"]}, "legend": null}}},
     {"data": {"name": "bars"}, "transform": [{"filter": "datum.p==='D'"}], "mark": {"type": "rule", "strokeWidth": 1.5},
      "encoding": {"x": {"field": "g", "type": "nominal"}, "y": {"field": "v", "type": "quantitative", "axis": {"title": "DQ-BSA/APC MFI Ratio", "values": [0,0.05,0.1,0.15,0.2,0.25], "tickCount": 10, "format": ".2f", "labelOverlap": false}}, "y2": {"field": "e"}, "stroke": {"field": "g", "type": "nominal", "legend": null}}},
     {"data": {"name": "bars"}, "transform": [{"filter": "datum.p==='D'"}], "mark": {"type": "tick", "size": 14, "thickness": 1.5},
      "encoding": {"x": {"field": "g", "type": "nominal"}, "y": {"field": "e", "type": "quantitative", "axis": {"title": "DQ-BSA/APC MFI Ratio", "values": [0,0.05,0.1,0.15,0.2,0.25], "tickCount": 10, "format": ".2f", "labelOverlap": false}}, "color": {"field": "g", "type": "nominal", "scale": {"domain": ["WT","IRᐞᵐʸᵉˡ"], "range": ["#6A9AD6","#D27868"]}, "legend": null}}},
     {"data": {"name": "br"}, "transform": [{"filter": "datum.p==='D'"}], "mark": {"type": "rule", "color": "#333", "strokeWidth": 1.3},
      "encoding": {"x": {"field": "g", "type": "nominal"}, "x2": {"field": "g2"}, "y": {"field": "v", "type": "quantitative", "axis": {"title": "DQ-BSA/APC MFI Ratio", "values": [0,0.05,0.1,0.15,0.2,0.25], "tickCount": 10, "format": ".2f", "labelOverlap": false}}}},
     {"data": {"name": "br"}, "transform": [{"filter": "datum.p==='D'"}], "mark": {"type": "rule", "color": "#333", "strokeWidth": 1.3},
      "encoding": {"x": {"field": "g", "type": "nominal"}, "y": {"field": "lo", "type": "quantitative", "axis": {"title": "DQ-BSA/APC MFI Ratio", "values": [0,0.05,0.1,0.15,0.2,0.25], "tickCount": 10, "format": ".2f", "labelOverlap": false}}, "y2": {"field": "hi"}}},
     {"data": {"name": "br"}, "transform": [{"filter": "datum.p==='D'"}], "mark": {"type": "rule", "color": "#333", "strokeWidth": 1.3},
      "encoding": {"x": {"field": "g2", "type": "nominal"}, "y": {"field": "lo", "type": "quantitative", "axis": {"title": "DQ-BSA/APC MFI Ratio", "values": [0,0.05,0.1,0.15,0.2,0.25], "tickCount": 10, "format": ".2f", "labelOverlap": false}}, "y2": {"field": "hi"}}},
     {"data": {"name": "br"}, "transform": [{"filter": "datum.p==='D'"}], "mark": {"type": "text", "fontSize": 12, "fontWeight": "bold", "dx": 23.5, "baseline": "alphabetic", "color": "#222"},
      "encoding": {"x": {"field": "g", "type": "nominal"}, "y": {"field": "v", "type": "quantitative", "axis": {"title": "DQ-BSA/APC MFI Ratio", "values": [0,0.05,0.1,0.15,0.2,0.25], "tickCount": 10, "format": ".2f", "labelOverlap": false}}, "text": {"field": "s"}}}
    ]},
   {"width": 42, "height": 144, "data": {"values": [{"k": 1}]}, "mark": {"type": "point", "opacity": 0}, "encoding": {}},
   {"width": 143, "height": 145, "view": {"stroke": "#c4c4c4"},
    "layer": [
     {"data": {"name": "hist"}, "transform": [{"filter": "datum.p==='D' && datum.g!=='WT'"}], "mark": {"type": "area", "interpolate": "monotone", "color": "#BC3F3F", "opacity": 0.75, "stroke": "#A83030", "strokeWidth": 1},
      "encoding": {
       "x": {"field": "x", "type": "quantitative", "scale": {"domain": [0,100], "nice": false, "zero": false}, "axis": {"title": "DQ-BSA", "titleFontSize": 13, "titlePadding": 3, "labels": false, "tickCount": 50, "values": [0,7.5,11.9,15.1,17.5,19.5,21.1,22.6,23.9,25,32.5,36.9,40.1,42.5,44.5,46.1,47.6,48.9,50,57.5,61.9,65.1,67.5,69.5,71.1,72.6,73.9,75,82.5,86.9,90.1,92.5,94.5,96.1,97.6,98.9,100], "tickSize": 3, "domainWidth": 1.2}},
       "y": {"field": "y", "type": "quantitative", "scale": {"domain": [0,100], "nice": false}, "axis": {"title": "Cell count", "titleFontSize": 13, "titlePadding": 5, "labels": false, "tickCount": 50, "values": [0,5,10,15,20,25,30,35,40,45,50,55,60,65,70,75,80,85,90,95,100], "tickSize": 2, "tickColor": "#555", "domain": false}}}},
     {"data": {"name": "hist"}, "transform": [{"filter": "datum.p==='D' && datum.g==='WT'"}], "mark": {"type": "area", "interpolate": "monotone", "color": "#2B5FA8", "opacity": 0.72, "stroke": "#1E4E98", "strokeWidth": 1},
      "encoding": {"x": {"field": "x", "type": "quantitative"}, "y": {"field": "y", "type": "quantitative"}}},
     {"data": {"name": "hist"}, "transform": [{"filter": "datum.p==='D'"}], "mark": {"type": "point", "opacity": 0, "filled": true},
      "encoding": {"x": {"field": "x", "type": "quantitative"}, "y": {"field": "y", "type": "quantitative"},
       "color": {"field": "g", "type": "nominal", "scale": {"domain": ["WT","IRᐞᵐʸᵉˡ"], "range": ["#194B96","#5F0A0A"]},
        "legend": {"orient": "top-right", "offset": 2, "title": null, "symbolType": "square", "symbolSize": 210, "symbolOpacity": 1, "symbolStrokeWidth": 0, "labelFontSize": 14, "labelFontWeight": "bold", "labelColor": "#111", "rowPadding": 1, "labelOffset": 2, "padding": 0}}}}
    ]}
  ]}
 ]},
{"bounds": "flush", "spacing": 0,
 "resolve": {"scale": {"color": "independent", "fill": "independent", "stroke": "independent", "x": "independent", "y": "independent"}, "legend": {"color": "independent"}, "axis": {"x": "independent", "y": "independent"}},
 "hconcat": [
  {"width": 65, "height": 141, "data": {"values": [{"k": 1}]}, "mark": {"type": "point", "opacity": 0}, "encoding": {}},
  {"width": 100, "height": 143,
   "title": {"text": "E", "anchor": "start", "frame": "group", "fontSize": 20, "fontWeight": "bold", "baseline": "alphabetic", "dx": -89, "offset": 0, "dy": 48},
   "layer": [
    {"data": {"name": "bars"}, "transform": [{"filter": "datum.p==='E'"}], "mark": {"type": "bar", "strokeWidth": 1},
     "encoding": {
      "x": {"field": "g", "type": "nominal", "sort": null, "scale": {"domain": ["UI","S.T."], "range": [0,95], "paddingInner": 0.28, "paddingOuter": 0.02}, "axis": {"title": null, "labelAngle": 0, "ticks": false, "labelFontSize": 11, "labelPadding": 4, "domainWidth": 1.5}},
      "y": {"field": "v", "type": "quantitative", "scale": {"domain": [0,0.25], "nice": false}, "axis": {"title": "FDG/APC MFI Ratio", "values": [0,0.05,0.1,0.15,0.2,0.25], "tickCount": 10, "format": ".2f", "labelOverlap": false, "labelFontSize": 11.5, "labelPadding": 2, "tickSize": 3, "tickWidth": 1.5, "domainWidth": 1.5, "titleFontSize": 10, "titlePadding": 42}},
      "fill": {"field": "g", "type": "nominal", "scale": {"domain": ["UI","S.T."], "range": ["#0A5096","#9B1905"]}, "legend": null},
      "stroke": {"field": "g", "type": "nominal", "scale": {"domain": ["UI","S.T."], "range": ["#6A9AD6","#D27868"]}, "legend": null}}},
    {"data": {"name": "bars"}, "transform": [{"filter": "datum.p==='E'"}], "mark": {"type": "rule", "strokeWidth": 1.5},
     "encoding": {"x": {"field": "g", "type": "nominal"}, "y": {"field": "v", "type": "quantitative", "axis": {"title": "FDG/APC MFI Ratio", "values": [0,0.05,0.1,0.15,0.2,0.25], "tickCount": 10, "format": ".2f", "labelOverlap": false}}, "y2": {"field": "e"}, "stroke": {"field": "g", "type": "nominal", "legend": null}}},
    {"data": {"name": "bars"}, "transform": [{"filter": "datum.p==='E'"}], "mark": {"type": "tick", "size": 14, "thickness": 1.5},
     "encoding": {"x": {"field": "g", "type": "nominal"}, "y": {"field": "e", "type": "quantitative", "axis": {"title": "FDG/APC MFI Ratio", "values": [0,0.05,0.1,0.15,0.2,0.25], "tickCount": 10, "format": ".2f", "labelOverlap": false}}, "color": {"field": "g", "type": "nominal", "scale": {"domain": ["UI","S.T."], "range": ["#6A9AD6","#D27868"]}, "legend": null}}},
    {"data": {"name": "br"}, "transform": [{"filter": "datum.p==='E'"}], "mark": {"type": "rule", "color": "#333", "strokeWidth": 1.3},
     "encoding": {"x": {"field": "g", "type": "nominal"}, "x2": {"field": "g2"}, "y": {"field": "v", "type": "quantitative", "axis": {"title": "FDG/APC MFI Ratio", "values": [0,0.05,0.1,0.15,0.2,0.25], "tickCount": 10, "format": ".2f", "labelOverlap": false}}}},
    {"data": {"name": "br"}, "transform": [{"filter": "datum.p==='E'"}], "mark": {"type": "rule", "color": "#333", "strokeWidth": 1.3},
     "encoding": {"x": {"field": "g", "type": "nominal"}, "y": {"field": "lo", "type": "quantitative", "axis": {"title": "FDG/APC MFI Ratio", "values": [0,0.05,0.1,0.15,0.2,0.25], "tickCount": 10, "format": ".2f", "labelOverlap": false}}, "y2": {"field": "hi"}}},
    {"data": {"name": "br"}, "transform": [{"filter": "datum.p==='E'"}], "mark": {"type": "rule", "color": "#333", "strokeWidth": 1.3},
     "encoding": {"x": {"field": "g2", "type": "nominal"}, "y": {"field": "lo", "type": "quantitative", "axis": {"title": "FDG/APC MFI Ratio", "values": [0,0.05,0.1,0.15,0.2,0.25], "tickCount": 10, "format": ".2f", "labelOverlap": false}}, "y2": {"field": "hi"}}},
    {"data": {"name": "br"}, "transform": [{"filter": "datum.p==='E'"}], "mark": {"type": "text", "fontSize": 12, "fontWeight": "bold", "dx": 27, "baseline": "alphabetic", "color": "#222"},
     "encoding": {"x": {"field": "g", "type": "nominal"}, "y": {"field": "v", "type": "quantitative", "axis": {"title": "FDG/APC MFI Ratio", "values": [0,0.05,0.1,0.15,0.2,0.25], "tickCount": 10, "format": ".2f", "labelOverlap": false}}, "text": {"field": "s"}}}
   ]},
  {"width": 56, "height": 141, "data": {"values": [{"k": 1}]}, "mark": {"type": "point", "opacity": 0}, "encoding": {}},
  {"width": 132, "height": 141, "view": {"stroke": "#c4c4c4"},
   "layer": [
    {"data": {"name": "hist"}, "transform": [{"filter": "datum.p==='E' && datum.g==='ST'"}], "mark": {"type": "area", "interpolate": "monotone", "color": "#BC3F3F", "opacity": 0.75, "stroke": "#A83030", "strokeWidth": 1},
     "encoding": {
      "x": {"field": "x", "type": "quantitative", "scale": {"domain": [0,100], "nice": false, "zero": false}, "axis": {"title": "FDG", "titleFontSize": 13, "titlePadding": 3, "labels": false, "tickCount": 50, "values": [0,7.5,11.9,15.1,17.5,19.5,21.1,22.6,23.9,25,32.5,36.9,40.1,42.5,44.5,46.1,47.6,48.9,50,57.5,61.9,65.1,67.5,69.5,71.1,72.6,73.9,75,82.5,86.9,90.1,92.5,94.5,96.1,97.6,98.9,100], "tickSize": 3, "domainWidth": 1.2}},
      "y": {"field": "y", "type": "quantitative", "scale": {"domain": [0,100], "nice": false}, "axis": {"title": "Cell count", "titleFontSize": 13, "titlePadding": 5, "labels": false, "tickCount": 50, "values": [0,5,10,15,20,25,30,35,40,45,50,55,60,65,70,75,80,85,90,95,100], "tickSize": 2, "tickColor": "#555", "domain": false}}}},
    {"data": {"name": "hist"}, "transform": [{"filter": "datum.p==='E' && datum.g==='UI'"}], "mark": {"type": "area", "interpolate": "monotone", "color": "#2B5FA8", "opacity": 0.72, "stroke": "#1E4E98", "strokeWidth": 1},
     "encoding": {"x": {"field": "x", "type": "quantitative"}, "y": {"field": "y", "type": "quantitative"}}},
    {"data": {"name": "hist"}, "transform": [{"filter": "datum.p==='E'"}], "mark": {"type": "point", "opacity": 0, "filled": true},
     "encoding": {"x": {"field": "x", "type": "quantitative"}, "y": {"field": "y", "type": "quantitative"},
      "color": {"field": "g", "type": "nominal", "scale": {"domain": ["UI","ST"], "range": ["#194B96","#5F0A0A"]},
       "legend": {"orient": "top-right", "offset": 4, "title": null, "symbolType": "square", "symbolSize": 210, "symbolOpacity": 1, "symbolStrokeWidth": 0, "labelFontSize": 14, "labelFontWeight": "bold", "labelColor": "#111", "rowPadding": 1, "labelOffset": 2, "padding": 0}}}}
   ]}
 ]}
]
}
